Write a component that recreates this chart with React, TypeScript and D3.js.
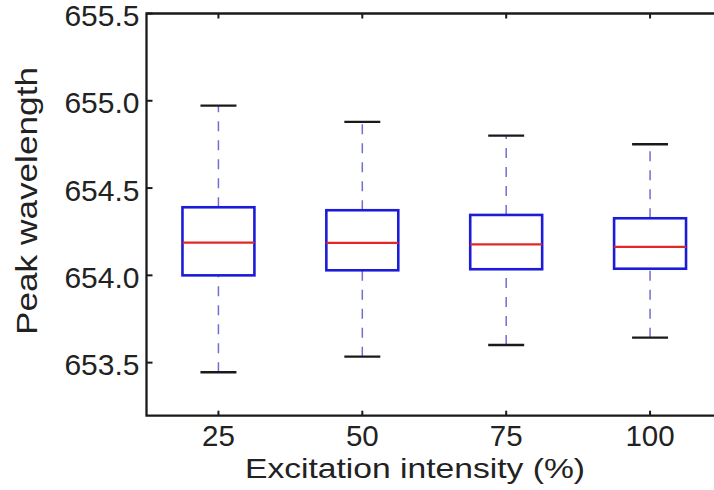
import React from "react";
import * as d3 from "d3";

const categories = ["25", "50", "75", "100"];
const whiskerHigh = [654.972, 654.879, 654.8, 654.751];
const q3 = [654.39, 654.373, 654.346, 654.327];
const median = [654.187, 654.186, 654.178, 654.163];
const q1 = [654.0, 654.029, 654.035, 654.038];
const whiskerLow = [653.445, 653.534, 653.601, 653.643];
const yTicks = [653.5, 654.0, 654.5, 655.0, 655.5];

const W = 714;
const H = 490;
const FONT = "'Liberation Sans', Arial, Helvetica, sans-serif";

export default function App() {
  const x = d3.scaleLinear().domain([0.5, 4.5]).range([146.5, 722]);
  const y = d3.scaleLinear().domain([653.196, 655.5]).range([415.7, 13.5]);
  const left = x(0.5);
  const right = W;
  const top = y(655.5);
  const bottom = y(653.196);
  const boxHalf = 0.25;
  const capHalf = 0.125;
  const whiskerColor = "#6e6ed4";
  const dash = "10,9";

  return (
    <svg
      width={W}
      height={H}
      style={{ position: "absolute", left: 0, top: 0, background: "#fff" }}
      fontFamily={FONT}
    >
      <rect x={0} y={0} width={W} height={H} fill="#fff" />
      {categories.map((c, i) => {
        const p = i + 1;
        const cx = x(p);
        return (
          <g key={c}>
            <line
              x1={cx}
              x2={cx}
              y1={y(q3[i])}
              y2={y(whiskerHigh[i])}
              stroke={whiskerColor}
              strokeWidth={1.5}
              strokeDasharray={dash}
            />
            <line
              x1={cx}
              x2={cx}
              y1={y(whiskerLow[i])}
              y2={y(q1[i])}
              stroke={whiskerColor}
              strokeWidth={1.5}
              strokeDasharray={dash}
            />
            <line
              x1={x(p - capHalf)}
              x2={x(p + capHalf)}
              y1={y(whiskerHigh[i])}
              y2={y(whiskerHigh[i])}
              stroke="#1a1a1a"
              strokeWidth={2.3}
            />
            <line
              x1={x(p - capHalf)}
              x2={x(p + capHalf)}
              y1={y(whiskerLow[i])}
              y2={y(whiskerLow[i])}
              stroke="#1a1a1a"
              strokeWidth={2.3}
            />
            <rect
              x={x(p - boxHalf)}
              y={y(q3[i])}
              width={x(p + boxHalf) - x(p - boxHalf)}
              height={y(q1[i]) - y(q3[i])}
              fill="none"
              stroke="#1c1cd8"
              strokeWidth={2.6}
            />
            <line
              x1={x(p - boxHalf)}
              x2={x(p + boxHalf)}
              y1={y(median[i])}
              y2={y(median[i])}
              stroke="#e02828"
              strokeWidth={2.3}
            />
          </g>
        );
      })}

      {/* frame: top, left, bottom (right side lies beyond the picture) */}
      <path
        d={`M${right},${top}H${left}V${bottom}H${right}`}
        fill="none"
        stroke="#1a1a1a"
        strokeWidth={2.3}
      />
      {/* y ticks */}
      {yTicks.map((t) => (
        <g key={t}>
          <line x1={left} x2={left + 6} y1={y(t)} y2={y(t)} stroke="#1a1a1a" strokeWidth={2} />
          <text
            x={139.5}
            y={y(t) + 12.7}
            textAnchor="end"
            fontSize={30}
            fill="#222"
          >
            {t.toFixed(1)}
          </text>
        </g>
      ))}
      {/* x ticks */}
      {categories.map((c, i) => (
        <g key={"xt" + c}>
          <line x1={x(i + 1)} x2={x(i + 1)} y1={bottom} y2={bottom - 5} stroke="#1a1a1a" strokeWidth={2} />
          <line x1={x(i + 1)} x2={x(i + 1)} y1={top} y2={top + 5} stroke="#1a1a1a" strokeWidth={2} />
          <text x={x(i + 1)} y={445.5} textAnchor="middle" fontSize={29.5} fill="#222">
            {c}
          </text>
        </g>
      ))}
      <text
        x={415}
        y={477.5}
        textAnchor="middle"
        fontSize={28.5}
        fill="#222"
        textLength={340}
        lengthAdjust="spacingAndGlyphs"
      >
        Excitation intensity (%)
      </text>
      <text
        transform={`translate(36.5,201) rotate(-90)`}
        textAnchor="middle"
        fontSize={30}
        fill="#222"
        textLength={268}
        lengthAdjust="spacingAndGlyphs"
      >
        Peak wavelength
      </text>
    </svg>
  );
}
